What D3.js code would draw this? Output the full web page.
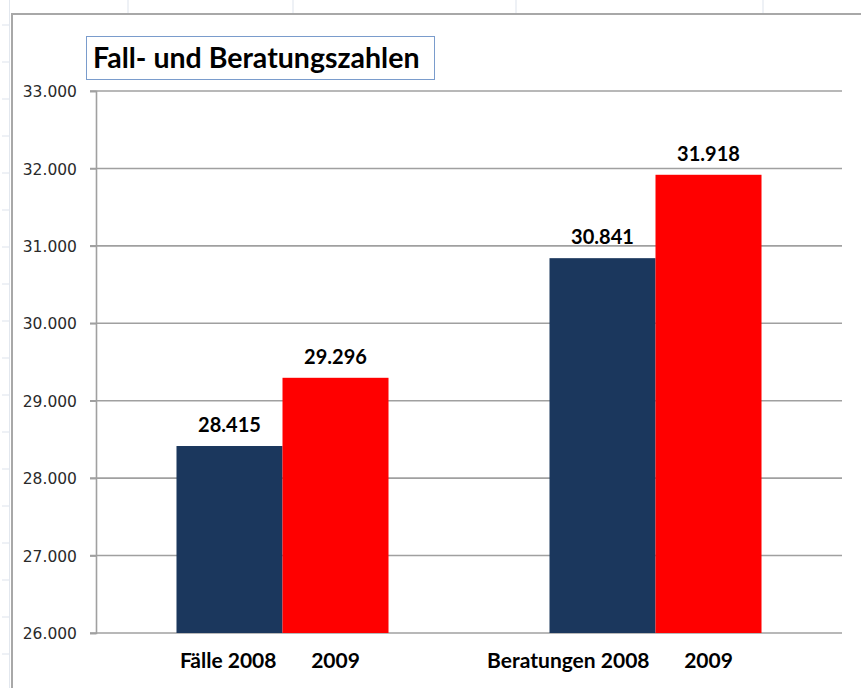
<!DOCTYPE html>
<html>
<head>
<meta charset="utf-8">
<script src="https://cdn.jsdelivr.net/npm/d3@7"></script>
<style>
  html, body { margin: 0; padding: 0; background: #ffffff; }
  svg { display: block; }
</style>
</head>
<body>
<svg id="chart" width="861" height="688"></svg>
<script>
// ---- data ----
const title = "Fall- und Beratungszahlen";
const categories = ["Fälle", "Beratungen"];
const categoryLabels = ["Fälle 2008", "Beratungen 2008"];
const seriesNames = ["2008", "2009"];
const values2008 = [28415, 30841];
const values2009 = [29296, 31918];
const yTicks = [26000, 27000, 28000, 29000, 30000, 31000, 32000, 33000];
const seriesColors = ["#1b375d", "#ff0000"];

// ---- layout ----
const W = 861, H = 688;
const svg = d3.select("#chart");
const de = d3.formatLocale({ decimal: ",", thousands: ".", grouping: [3], currency: ["", " €"] });
const fmt = de.format(",d");

// spreadsheet background pieces
const sheet = svg.append("g");
[128, 293, 516, 763].forEach(x => {
  sheet.append("line").attr("x1", x).attr("x2", x).attr("y1", 0).attr("y2", 13)
    .attr("stroke", "#dde3ec").attr("stroke-width", 1);
});
d3.range(25, H, 37).forEach(y => {
  sheet.append("line").attr("x1", 2).attr("x2", 10).attr("y1", y).attr("y2", y)
    .attr("stroke", "#dde3ec").attr("stroke-width", 1);
});
sheet.append("line").attr("x1", 9.5).attr("x2", 9.5).attr("y1", 0).attr("y2", H)
  .attr("stroke", "#e2e7ee").attr("stroke-width", 1);
// chart frame
sheet.append("path").attr("d", `M12,${H} L12,14 L${W},14`)
  .attr("fill", "none").attr("stroke", "#a8a8a8").attr("stroke-width", 2);

// scales
const y = d3.scaleLinear().domain([26000, 33000]).range([633, 91]);
const x = d3.scaleBand().domain(categories).range([96, 842])
  .paddingInner(0.4316).paddingOuter(0.2158);
const xs = d3.scaleBand().domain(seriesNames).range([0, x.bandwidth()]).padding(0);

// gridlines
const grid = svg.append("g");
grid.selectAll("line").data(yTicks).join("line")
  .attr("x1", 90).attr("x2", 842)
  .attr("y1", d => y(d)).attr("y2", d => y(d))
  .attr("stroke", "#a0a0a0").attr("stroke-width", 1.6);

// y axis
const yAxis = d3.axisLeft(y).tickValues(yTicks).tickFormat(d => fmt(d)).tickSize(6).tickPadding(13);
const ya = svg.append("g").attr("transform", "translate(96,0)").call(yAxis);
ya.select(".domain").attr("stroke", "#a0a0a0").attr("stroke-width", 1.6);
ya.selectAll(".tick line").attr("stroke", "#a0a0a0").attr("stroke-width", 1.6);
ya.selectAll(".tick text").attr("font-family", "DejaVu Sans, Verdana, sans-serif")
  .attr("font-size", 15.5).attr("fill", "#2a2a2a").attr("dy", "0.36em");

// bars
const rows = categories.map((c, i) => ({ cat: c, vals: [values2008[i], values2009[i]] }));
const groups = svg.append("g").selectAll("g").data(rows).join("g")
  .attr("transform", d => `translate(${x(d.cat)},0)`);
groups.selectAll("rect").data(d => d.vals.map((v, j) => ({ s: seriesNames[j], v, j })))
  .join("rect")
  .attr("x", d => xs(d.s)).attr("width", xs.bandwidth())
  .attr("y", d => y(d.v)).attr("height", d => y(26000) - y(d.v))
  .attr("fill", d => seriesColors[d.j]);
groups.selectAll("text.val").data(d => d.vals.map((v, j) => ({ s: seriesNames[j], v, j })))
  .join("text").attr("class", "val")
  .attr("x", d => xs(d.s) + xs.bandwidth() / 2).attr("y", d => y(d.v) - 14)
  .attr("text-anchor", "middle")
  .attr("font-family", "Lato, 'Open Sans', sans-serif").attr("font-weight", "bold")
  .attr("font-size", 20).attr("fill", "#000")
  .text(d => fmt(d.v));

// category labels
groups.append("text")
  .attr("x", xs("2009") - 6).attr("y", 668)
  .attr("text-anchor", "end")
  .attr("font-family", "Lato, 'Open Sans', sans-serif").attr("font-weight", "bold")
  .attr("font-size", 21).attr("fill", "#000")
  .text((d, i) => categoryLabels[i]);
groups.append("text")
  .attr("x", xs("2009") + xs.bandwidth() / 2).attr("y", 668)
  .attr("text-anchor", "middle")
  .attr("font-family", "Lato, 'Open Sans', sans-serif").attr("font-weight", "bold")
  .attr("font-size", 21).attr("fill", "#000")
  .text(seriesNames[1]);

// title box
svg.append("rect").attr("x", 86.5).attr("y", 36.5).attr("width", 348).attr("height", 43)
  .attr("fill", "#fff").attr("stroke", "#7a9ccc").attr("stroke-width", 1);
svg.append("text").attr("x", 93).attr("y", 68)
  .attr("font-family", "Lato, 'Open Sans', sans-serif").attr("font-weight", "bold")
  .attr("font-size", 28.5).attr("fill", "#000")
  .text(title);
</script>
</body>
</html>
